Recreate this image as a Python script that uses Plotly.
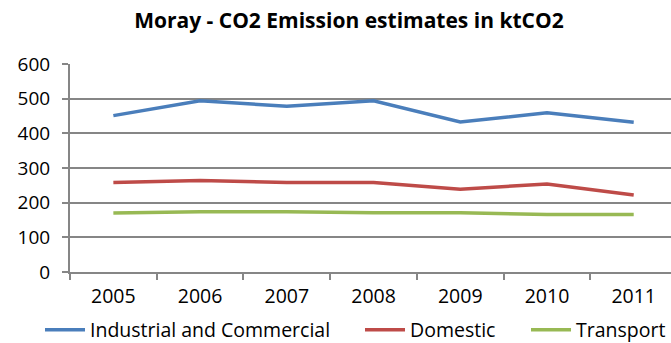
import plotly.graph_objects as go

years = ["2005", "2006", "2007", "2008", "2009", "2010", "2011"]
industrial = [451, 494, 478, 494, 433, 459, 432]
domestic = [258, 264, 258, 258, 239, 254, 222]
transport = [170, 174, 174, 171, 171, 166, 166]
y_ticks = [0, 100, 200, 300, 400, 500, 600]

series = [
    ("Industrial and Commercial", industrial, "#4a7ebb", "legend"),
    ("Domestic", domestic, "#be4b48", "legend2"),
    ("Transport", transport, "#98b954", "legend3"),
]

font_family = "Open Sans, DejaVu Sans, sans-serif"
W, H = 671, 343

fig = go.Figure()
for name, values, color, leg in series:
    fig.add_trace(go.Scatter(
        x=years, y=values, name=name, mode="lines",
        line=dict(color=color, width=3.5), legend=leg,
    ))


def legend_box(left_px):
    # one legend per series so each entry sits at its own spot on the bottom row
    return dict(
        xref="container", yref="container",
        x=left_px / W, xanchor="left", y=1 - 330 / H, yanchor="middle",
        orientation="h", font=dict(size=19.5), itemwidth=40,
        bgcolor="rgba(0,0,0,0)",
    )


fig.update_layout(
    width=W, height=H,
    margin=dict(l=70, r=0, t=64, b=71),
    paper_bgcolor="white", plot_bgcolor="white",
    font=dict(family=font_family, size=19, color="black"),
    title=dict(
        text="<b>Moray - CO2 Emission estimates in ktCO2</b>",
        x=0.52, xanchor="center", y=0.94, yanchor="middle",
        font=dict(size=21, family=font_family),
    ),
    showlegend=True,
    legend=legend_box(40),
    legend2=legend_box(360),
    legend3=legend_box(526),
)

fig.update_xaxes(
    type="category", range=[-0.5, 6.43],
    showline=True, linecolor="#868686", linewidth=2,
    ticks="outside", tickson="boundaries", ticklen=6, tickwidth=2, tickcolor="#868686",
    showgrid=False, tickfont=dict(size=19.5), ticklabelstandoff=6,
)
fig.update_yaxes(
    range=[0, 600], tickvals=y_ticks,
    showline=True, linecolor="#868686", linewidth=2,
    ticks="outside", ticklen=6, tickwidth=2, tickcolor="#868686",
    showgrid=True, gridcolor="#868686", gridwidth=1.5,
    zeroline=False, tickfont=dict(size=19), ticklabelstandoff=8,
)

fig.write_html("out.html")
